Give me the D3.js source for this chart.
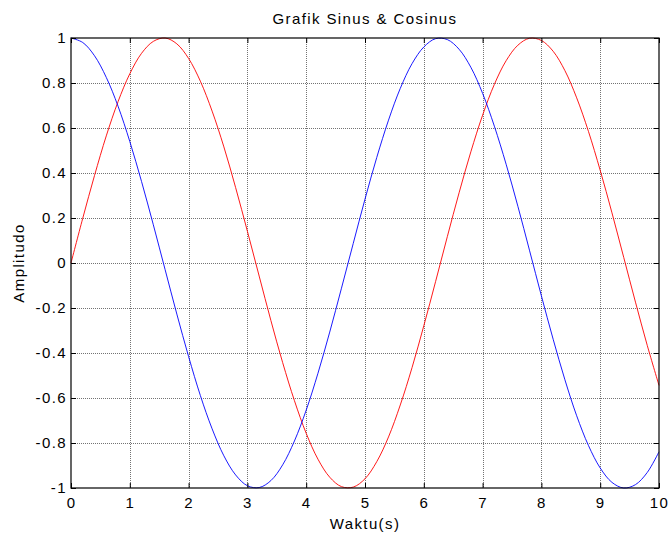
<!DOCTYPE html>
<html>
<head>
<meta charset="utf-8">
<script src="https://cdn.jsdelivr.net/npm/d3@7"></script>
<style>
  body { margin: 0; background: #fff; }
  text { font-family: "Liberation Sans", Arial, sans-serif; }
</style>
</head>
<body>
<svg id="main_chart" width="671" height="535"></svg>
<script>
let waktu = [0,0.2,0.4,0.6,0.8,1,1.2,1.4,1.6,1.8,2,2.2,2.4,2.6,2.8,3,3.2,3.4,3.6,3.8,4,4.2,4.4,4.6,4.8,5,
    5.2,5.4,5.6,5.8,6,6.2,6.4,6.6,6.8,7,7.2,7.4,7.6,7.8,8,8.2,8.4,8.6,8.8,9,9.2,9.4,9.6,9.8,10];
let sinus = [0,0.199,0.389,0.565,0.717,0.841,0.932,0.985,1,0.974,0.909,0.808,0.675,0.516,0.335,0.141,
    -0.058,-0.256,-0.443,-0.612,-0.757,-0.872,-0.952,-0.994,-0.996,-0.959,-0.883,-0.773,-0.631,-0.465,-0.279,
    -0.083,0.117,0.312,0.494,0.657,0.794,0.899,0.968,0.999,0.989,0.941,0.855,0.734,0.585,0.412,0.223,0.025,
    -0.174,-0.366,-0.544];
let cosinus = [1,0.98,0.921,0.825,0.697,0.54,0.362,0.17,-0.029,-0.227,-0.416,-0.589,-0.737,-0.857,-0.942,
    -0.99,-0.998,-0.967,-0.897,-0.791,-0.654,-0.49,-0.307,-0.112,0.087,0.284,0.469,0.635,0.776,0.886,0.96,
    0.997,0.993,0.95,0.87,0.754,0.608,0.439,0.252,0.054,-0.146,-0.339,-0.519,-0.679,-0.811,-0.911,-0.975,
    -1,-0.985,-0.931,-0.839];
let xTicks = [0,1,2,3,4,5,6,7,8,9,10];
let yTicks = [-1,-0.8,-0.6,-0.4,-0.2,0,0.2,0.4,0.6,0.8,1];

let svg = d3.select('#main_chart');
let mLeft = 71, mTop = 38, w = 588, h = 450;
let fontSize = "15px", spacing = "1.4px";

let xScale = d3.scaleLinear().domain([0,10]).range([0,w]);
let yScale = d3.scaleLinear().domain([-1,1]).range([h,0]);

let chart = svg.append('g').attr("transform","translate(" + mLeft + "," + mTop + ")");

// grid
chart.selectAll("line.gx").data(xTicks.slice(1,-1)).enter().append("line")
    .attr("x1", d => Math.round(xScale(d)) + 0.5).attr("x2", d => Math.round(xScale(d)) + 0.5)
    .attr("y1", 0).attr("y2", h)
    .attr("stroke", "#000").attr("stroke-opacity", 0.55)
    .attr("stroke-width", 1).attr("stroke-dasharray", "1,1");
chart.selectAll("line.gy").data(yTicks.slice(1,-1)).enter().append("line")
    .attr("x1", 0).attr("x2", w)
    .attr("y1", d => Math.round(yScale(d)) + 0.5).attr("y2", d => Math.round(yScale(d)) + 0.5)
    .attr("stroke", "#000").attr("stroke-opacity", 0.55)
    .attr("stroke-width", 1).attr("stroke-dasharray", "1,1");

let line = d3.line()
    .x((d,i) => xScale(waktu[i]))
    .y(d => yScale(d))
    .curve(d3.curveCatmullRom);

chart.append("path").datum(sinus)
    .attr("d", line).attr("fill", "none").attr("stroke", "#ff0000").attr("stroke-width", 0.9);
chart.append("path").datum(cosinus)
    .attr("d", line).attr("fill", "none").attr("stroke", "#0000ff").attr("stroke-width", 0.9);

// axes (ticks inward, on all sides)
let fmt = d => d3.format("~g")(d).replace("\u2212", "-");
let styleAxis = function(g) {
    g.select(".domain").remove();
    g.selectAll("text").style("font-size", fontSize).style("letter-spacing", spacing)
        .style("font-family", '"Liberation Sans", Arial, sans-serif').attr("fill", "#000");
    g.selectAll("line").attr("stroke", "#000");
};
chart.append('g').attr("transform","translate(0," + h + ")")
    .call(d3.axisBottom(xScale).tickValues(xTicks).tickFormat(fmt).tickSizeInner(-5).tickPadding(9))
    .call(styleAxis);
chart.append('g')
    .call(d3.axisLeft(yScale).tickValues(yTicks).tickFormat(fmt).tickSizeInner(-5).tickPadding(4))
    .call(styleAxis);
chart.append('g')
    .call(d3.axisTop(xScale).tickValues(xTicks).tickFormat("").tickSizeInner(-5))
    .call(styleAxis);
chart.append('g').attr("transform","translate(" + w + ",0)")
    .call(d3.axisRight(yScale).tickValues(yTicks).tickFormat("").tickSizeInner(-5))
    .call(styleAxis);

chart.append("rect").attr("width", w).attr("height", h)
    .attr("fill", "none").attr("stroke", "#000").attr("stroke-width", 1.2);

svg.append("text").attr("x", mLeft + w/2).attr("y", 24).attr("text-anchor", "middle")
    .style("font-size", fontSize).style("letter-spacing", spacing).text("Grafik Sinus & Cosinus");
svg.append("text").attr("x", mLeft + w/2).attr("y", 529).attr("text-anchor", "middle")
    .style("font-size", fontSize).style("letter-spacing", spacing).text("Waktu(s)");
svg.append("text").attr("transform", "translate(24," + (mTop + h/2) + ") rotate(-90)")
    .attr("text-anchor", "middle").style("font-size", fontSize).style("letter-spacing", spacing)
    .text("Amplitudo");
</script>
</body>
</html>
